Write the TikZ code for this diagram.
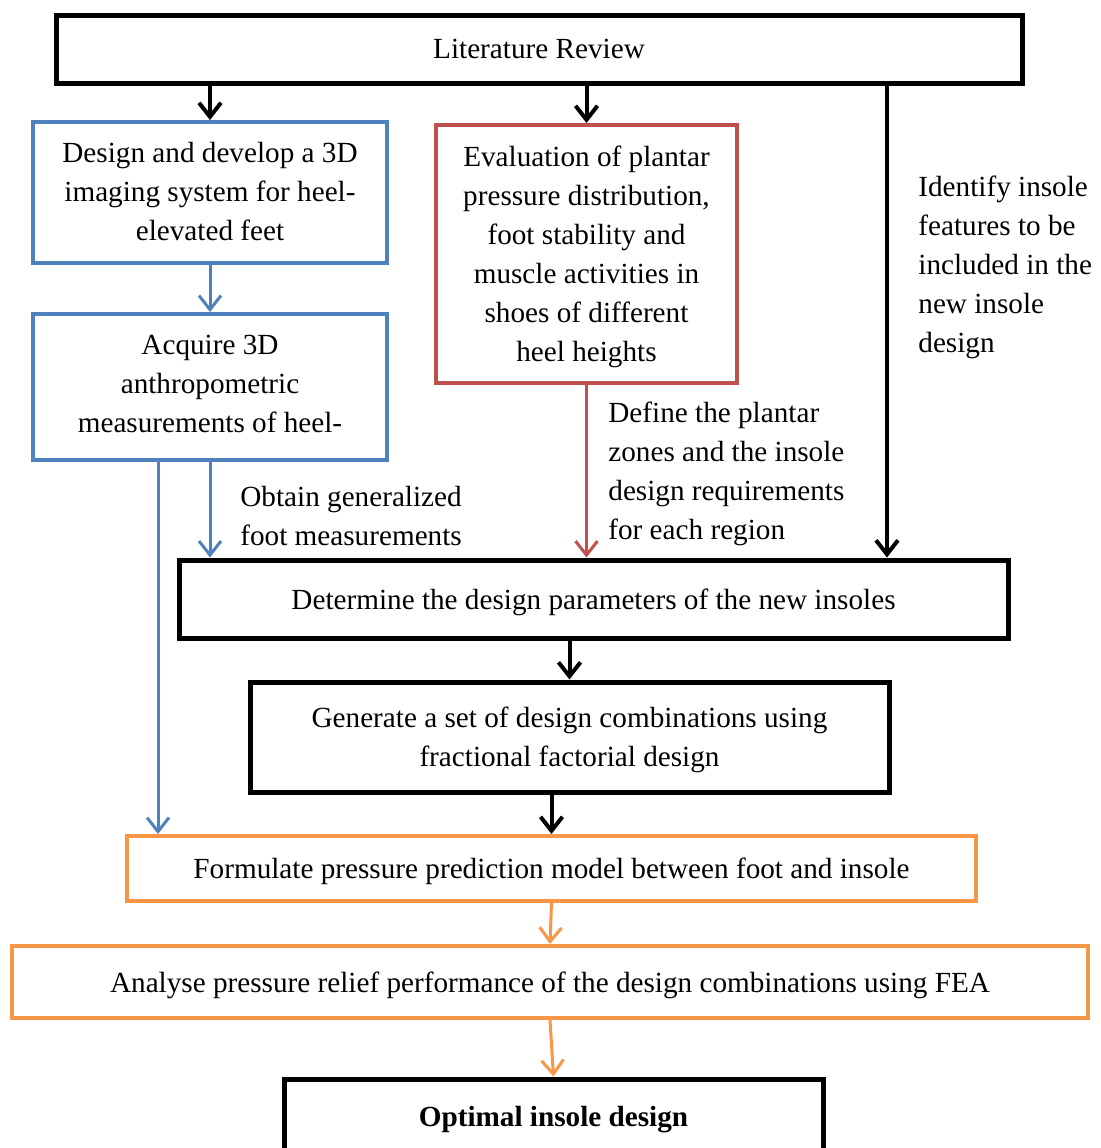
\documentclass[tikz,border=0pt]{standalone}
\usepackage{fontspec}
\setmainfont{Liberation Serif}
\usetikzlibrary{arrows.meta}
\definecolor{flowblue}{RGB}{79,129,189}
\definecolor{flowred}{RGB}{192,80,77}
\definecolor{floworange}{RGB}{247,150,70}
\begin{document}
\begin{tikzpicture}[x=0.5pt,y=-0.5pt,
  every node/.style={font=\fontsize{14.6}{19.5}\selectfont},
  box/.style={rectangle, inner sep=0pt},
  blackbox/.style={box, draw=black, line width=2.5pt},
  bluebox/.style={box, draw=flowblue, line width=2pt},
  redbox/.style={box, draw=flowred, line width=2pt},
  orangebox/.style={box, draw=floworange, line width=2pt},
  % text blocks are placed by the top of their first line
  boxtext/.style={align=center, inner sep=0pt, anchor=north},
  note/.style={align=left, inner sep=0pt, anchor=north west},
  tip/.style={-{Straight Barb[length=7pt,width=11pt]}},
  blackarrow/.style={tip, draw=black, line width=2pt},
  bluearrow/.style={tip, draw=flowblue, line width=1.5pt},
  redarrow/.style={tip, draw=flowred, line width=1.5pt},
  orangearrow/.style={tip, draw=floworange, line width=1.5pt}]

\useasboundingbox (0,0) rectangle (1101,1148);
\clip (0,0) rectangle (1101,1148);

% boxes
\node[blackbox, minimum width=483pt, minimum height=34pt] (lr) at (539,49) {};
\node[bluebox, minimum width=177pt, minimum height=70.5pt] (design) at (210,192.5) {};
\node[bluebox, minimum width=177pt, minimum height=73pt] (acq) at (210,387) {};
\node[redbox, minimum width=150.5pt, minimum height=129pt] (eval) at (586.5,254) {};
\node[blackbox, minimum width=414.5pt, minimum height=39pt] (det) at (593.5,599) {};
\node[blackbox, minimum width=319.5pt, minimum height=55pt] (gen) at (569.5,737) {};
\node[orangebox, minimum width=424.5pt, minimum height=32.5pt] (form) at (551.5,868.5) {};
\node[orangebox, minimum width=538pt, minimum height=36pt] (ana) at (550,982) {};
\node[blackbox, minimum width=269.5pt, minimum height=37pt] (opt) at (553.5,1116) {};

% box texts
\node[boxtext] (lr-text) at (539,39) {Literature Review};
\node[boxtext] (design-text) at (210,142)
  {Design and develop a 3D\\imaging system for heel-\\elevated feet};
\node[boxtext] (acq-text) at (210,335)
  {Acquire 3D\\anthropometric\\measurements of heel-};
\node[boxtext] (eval-text) at (586.5,146)
  {Evaluation of plantar\\pressure distribution,\\foot stability and\\muscle activities in\\shoes of different\\heel heights};
\node[boxtext] (det-text) at (593.5,589)
  {Determine the design parameters of the new insoles};
\node[boxtext] (gen-text) at (569.5,707)
  {Generate a set of design combinations using\\fractional factorial design};
\node[boxtext] (form-text) at (551.5,858)
  {Formulate pressure prediction model between foot and insole};
\node[boxtext] (ana-text) at (550,972)
  {Analyse pressure relief performance of the design combinations using FEA};
\node[boxtext] (opt-text) at (553.5,1106)
  {\textbf{Optimal insole design}};

% side notes
\node[note] (obtain) at (240,486) {Obtain generalized\\foot measurements};
\node[note] (define) at (608,402) {Define the plantar\\zones and the insole\\design requirements\\for each region};
\node[note] (identify) at (918,176) {Identify insole\\features to be\\included in the\\new insole\\design};

% column positions of the long connectors
\coordinate (featx) at (887,0);
\coordinate (measx) at (158,0);

% connectors
\draw[blackarrow] (lr.south -| design.north) -- (design.north);
\draw[blackarrow] (lr.south -| eval.north) -- (eval.north);
\draw[blackarrow] (lr.south -| featx) -- (det.north -| featx);
\draw[bluearrow] (design.south) -- (acq.north);
\draw[bluearrow] (acq.south) -- (acq.south |- det.north);
\draw[bluearrow] (acq.south -| measx) -- (form.north -| measx);
\draw[redarrow] (eval.south) -- (eval.south |- det.north);
\draw[blackarrow] (det.south -| gen.north) -- (gen.north);
\draw[blackarrow] (form.north |- gen.south) -- (form.north);
\draw[orangearrow] (form.south) -- (ana.north);
\draw[orangearrow] (ana.south) -- (opt.north);
\end{tikzpicture}
\end{document}
